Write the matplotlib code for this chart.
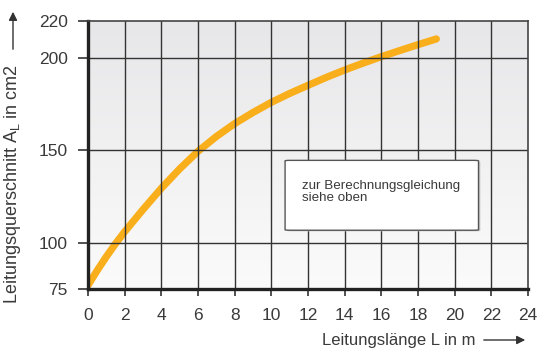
import numpy as np
import matplotlib
matplotlib.use("Agg")
import matplotlib.pyplot as plt
from matplotlib.patches import FancyBboxPatch, FancyArrowPatch

plt.rcParams['font.family'] = ['Liberation Sans', 'DejaVu Sans']

# Leitungslänge L in m
length_m = [0, 0.5, 1, 1.5, 2, 3, 4, 5, 6, 7, 8, 9, 10, 11, 12, 13, 14, 15,
            16, 17, 18, 19]
# Leitungsquerschnitt A_L in cm2
area_cm2 = [77, 85, 92.5, 99.5, 106, 118, 129.5, 140, 149.5, 157.5, 164.5,
            170.5, 176, 180.8, 185.2, 189.5, 193.5, 197.2, 200.7, 204, 207.2,
            210.3]

x_ticks = list(range(0, 25, 2))
y_ticks = [75, 100, 150, 200, 220]

W, H = 538, 349
fig = plt.figure(figsize=(W / 100, H / 100), dpi=100)
ax = fig.add_axes([88 / W, 1 - 289 / H, 440 / W, 268 / H])
ax.set_xlim(0, 24)
ax.set_ylim(75, 220)

# soft vertical gradient background
grad = np.linspace(0, 1, 256).reshape(-1, 1)
cmap = matplotlib.colors.LinearSegmentedColormap.from_list(
    "bg", ["#fbfbfb", "#e7e7e9"])
ax.imshow(grad, extent=[0, 24, 75, 220], origin="lower", aspect="auto",
          cmap=cmap, zorder=0)

# curve
ax.plot(length_m, area_cm2, color="#f9ae1b", lw=5.2, solid_capstyle="round",
        solid_joinstyle="round", zorder=2)

# grid
grid_color = "#333333"
for xv in x_ticks[1:-1]:
    ax.axvline(xv, color=grid_color, lw=1.0, zorder=3)
for yv in y_ticks[1:-1]:
    ax.axhline(yv, color=grid_color, lw=1.0, zorder=3)

for side in ["top", "right"]:
    ax.spines[side].set_color("#444444")
    ax.spines[side].set_linewidth(1.2)
for side in ["left", "bottom"]:
    ax.spines[side].set_color("#222222")
    ax.spines[side].set_linewidth(2.4)
for s in ax.spines.values():
    s.set_zorder(4)

text_color = "#3a3a3a"
ax.set_xticks(x_ticks)
ax.set_yticks(y_ticks)
ax.tick_params(axis="y", length=7, width=1.2, color="#333333", pad=7.5,
               labelsize=12.5, labelcolor=text_color)
ax.tick_params(axis="x", length=5, width=1.2, color="#333333", pad=9,
               labelsize=12.5, labelcolor=text_color)

# note box
box = FancyBboxPatch((10.75, 106.8), 10.55, 37.8,
                     boxstyle="round,pad=0,rounding_size=0.25",
                     facecolor="white", edgecolor="#555555", lw=1.0, zorder=5)
shadow = FancyBboxPatch((10.85, 106.2), 10.55, 37.8,
                        boxstyle="round,pad=0,rounding_size=0.25",
                        facecolor="#c8c8c8", edgecolor="none", zorder=4.5)
ax.add_patch(shadow)
ax.add_patch(box)
ax.text(11.7, 134.0, "zur Berechnungsgleichung\nsiehe oben", fontsize=9.6,
        color=text_color, va="top", ha="left", linespacing=1.0, zorder=6)

# axis labels with arrows
fig.text(13 / W, 1 - 184 / H, r"Leitungsquerschnitt A$_\mathregular{L}$ in cm2",
         rotation=90, ha="center", va="center", fontsize=13, color=text_color)
fig.add_artist(FancyArrowPatch(
    (13 / W, 1 - 52 / H), (13 / W, 1 - 9 / H), transform=fig.transFigure,
    arrowstyle="-|>,head_length=5,head_width=2.5", color="#333333", lw=1.0))
fig.text(399 / W, 1 - 340 / H, "Leitungslänge L in m", ha="center",
         va="center", fontsize=12, color=text_color)
fig.add_artist(FancyArrowPatch(
    (481 / W, 1 - 340 / H), (528 / W, 1 - 340 / H), transform=fig.transFigure,
    arrowstyle="-|>,head_length=5,head_width=2.5", color="#333333", lw=1.0))

fig.savefig("out.png", dpi=100)
